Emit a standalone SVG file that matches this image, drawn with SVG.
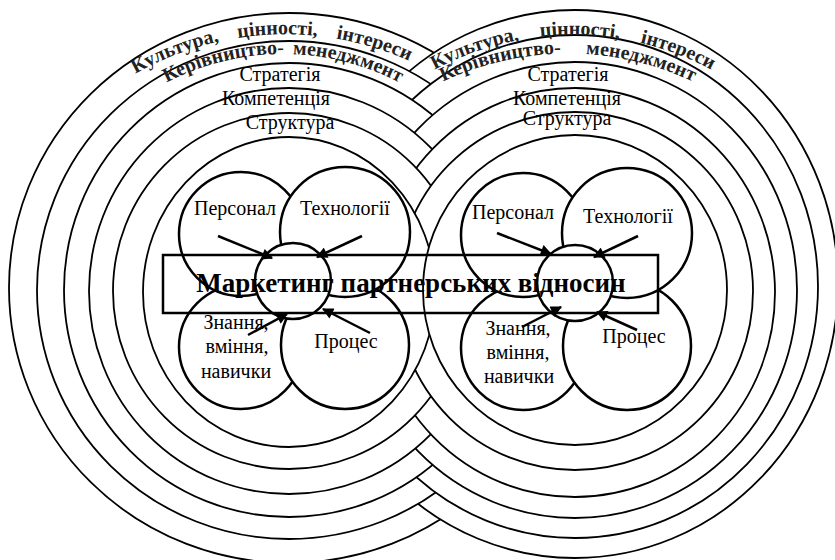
<svg xmlns="http://www.w3.org/2000/svg" width="835" height="560" viewBox="0 0 835 560">
<style>
.ring{fill:#fff;stroke:#000;stroke-width:1.8}
.sc{fill:#fff;stroke:#000;stroke-width:2.5}
.t{font-family:"Liberation Serif","Times New Roman",serif;font-size:20px;fill:#000}
.c{text-anchor:middle}
.wa{font-family:"Liberation Serif","Times New Roman",serif;font-size:20px;font-weight:bold;fill:#222}
.ar{stroke:#000;stroke-width:2.5;fill:none;marker-end:url(#ah)}
</style>
<defs>
<marker id="ah" viewBox="0 0 10 10" refX="9" refY="5" markerWidth="5" markerHeight="4.5" markerUnits="strokeWidth" orient="auto"><path d="M0,0 L10,5 L0,10 z" fill="#000"/></marker>
<path id="arcL1" d="M 125,80 A 303,303 0 0 1 420,66"/>
<path id="arcL2" d="M 150,92 A 252,252 0 0 1 416,92"/>
<path id="arcR1" d="M 420,78 A 294,294 0 0 1 726,78"/>
<path id="arcR2" d="M 425,91 A 292,292 0 0 1 711,91"/>
</defs>
<g id="rings">
<ellipse id="L1" class="ring" cx="289" cy="288" rx="280" ry="275"/>
<ellipse id="R1" class="ring" cx="575" cy="284" rx="263" ry="274"/>
<ellipse id="L2" class="ring" cx="289" cy="290" rx="252" ry="249"/>
<ellipse id="R2" class="ring" cx="575" cy="286.5" rx="243" ry="251.5"/>
<ellipse id="L3" class="ring" cx="289" cy="290" rx="225" ry="227"/>
<ellipse id="R3" class="ring" cx="575" cy="290" rx="222" ry="228"/>
<ellipse id="L4" class="ring" cx="289" cy="291" rx="200" ry="203"/>
<ellipse id="R4" class="ring" cx="575" cy="292.5" rx="200" ry="204.5"/>
<ellipse id="L5" class="ring" cx="289" cy="291" rx="176" ry="178"/>
<ellipse id="R5" class="ring" cx="575" cy="291" rx="178" ry="179"/>
<ellipse id="L6" class="ring" cx="289" cy="292" rx="146" ry="155"/>
<ellipse id="R6" class="ring" cx="575" cy="290" rx="152" ry="155"/>
</g>
<g id="ring-labels">
<text class="wa" word-spacing="14"><textPath href="#arcL1" startOffset="50%" text-anchor="middle">Культура, цінності, інтереси</textPath></text>
<text class="wa" word-spacing="4"><textPath href="#arcL2" startOffset="50%" text-anchor="middle">Керівництво- менеджмент</textPath></text>
<text class="t c" x="280" y="81">Стратегія</text>
<text class="t c" x="276" y="105">Компетенція</text>
<text class="t c" x="290" y="129">Структура</text>
<text class="wa" word-spacing="16"><textPath href="#arcR1" startOffset="50%" text-anchor="middle">Культура, цінності, інтереси</textPath></text>
<text class="wa" word-spacing="20"><textPath href="#arcR2" startOffset="50%" text-anchor="middle">Керівництво- менеджмент</textPath></text>
<text class="t c" x="568" y="81">Стратегія</text>
<text class="t c" x="567" y="105">Компетенція</text>
<text class="t c" x="567" y="125">Структура</text>
</g>
<g id="left-cluster">
<circle class="sc" cx="241" cy="347" r="62"/>
<circle class="sc" cx="345" cy="345" r="64"/>
<circle class="sc" cx="241" cy="234" r="62"/>
<circle class="sc" cx="345" cy="232" r="65"/>
<circle class="sc" cx="293" cy="281" r="38"/>
</g>
<g id="right-cluster">
<circle class="sc" cx="523" cy="348" r="62"/>
<circle class="sc" cx="627" cy="346" r="64"/>
<circle class="sc" cx="523" cy="235" r="62"/>
<circle class="sc" cx="627" cy="233" r="65"/>
<circle class="sc" cx="575" cy="283" r="38"/>
</g>
<g id="title">
<rect x="163" y="255" width="495" height="58" fill="none" stroke="#000" stroke-width="2.5"/>
<text x="411" y="292" text-anchor="middle" font-family="'Liberation Serif','Times New Roman',serif" font-size="27" font-weight="bold">Маркетинг партнерських відносин</text>
</g>
<g id="cluster-labels">
<text class="t c" x="235" y="215">Персонал</text>
<text class="t c" x="345" y="215">Технології</text>
<text class="t c" x="236" y="329">Знання,</text>
<text class="t c" x="237" y="353">вміння,</text>
<text class="t c" x="236" y="378">навички</text>
<text class="t c" x="346" y="348">Процес</text>
<text class="t c" x="513" y="219">Персонал</text>
<text class="t c" x="628" y="223">Технології</text>
<text class="t c" x="518" y="335">Знання,</text>
<text class="t c" x="518" y="359">вміння,</text>
<text class="t c" x="519" y="383">навички</text>
<text class="t c" x="634" y="343">Процес</text>
</g>
<g id="connectors">
<line class="ar" x1="218" y1="236" x2="272" y2="258"/>
<line class="ar" x1="362" y1="236" x2="317" y2="257"/>
<line class="ar" x1="248" y1="335" x2="287" y2="314"/>
<line class="ar" x1="370" y1="333" x2="323" y2="309"/>
<line class="ar" x1="497" y1="233" x2="551" y2="254"/>
<line class="ar" x1="638" y1="236" x2="594" y2="257"/>
<line class="ar" x1="522" y1="327" x2="561" y2="307"/>
<line class="ar" x1="637" y1="330" x2="597" y2="312"/>
</g>
</svg>
